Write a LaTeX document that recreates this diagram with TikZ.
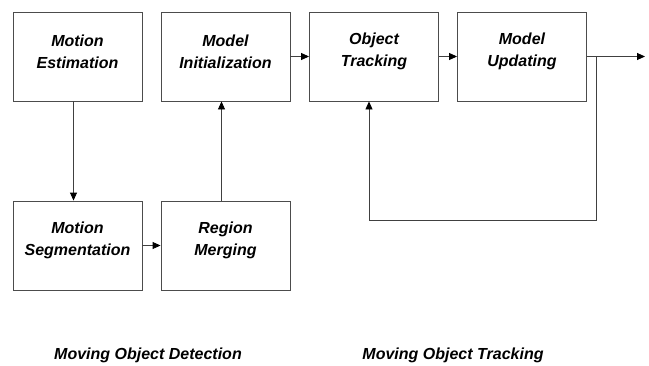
\documentclass[tikz,border=0pt]{standalone}
\usepackage{fontspec}
\setmainfont{Liberation Sans}
\usetikzlibrary{arrows.meta}
\tikzset{
  stage/.style={draw=black!70, line width=0.9pt, minimum width=129pt,
                minimum height=89pt, inner sep=0pt},
  stagetext/.style={font=\fontsize{16}{22}\selectfont\bfseries\itshape,
                    align=center, inner sep=0pt, yshift=5pt},
  caption/.style={font=\fontsize{16}{22}\selectfont\bfseries\itshape, inner sep=0pt},
  flow/.style={draw=black!75, line width=0.9pt,
               -{Triangle[length=8pt,width=7pt,color=black]}},
}

\begin{document}
\begin{tikzpicture}[x=1pt, y=-1pt]
    \useasboundingbox (0,0) rectangle (649,365);
    % detection stages
    \node[stage] (me) at (77.5, 56.5) {};
    \node[stage] (mi) at (225.5, 56.5) {};
    \node[stage] (ms) at (77.5, 245.5) {};
    \node[stage] (rm) at (225.5, 245.5) {};
    % tracking stages
    \node[stage] (ot) at (374, 56.5) {};
    \node[stage] (mu) at (522, 56.5) {};
    \node[stagetext] (me-t) at (me) {Motion\\Estimation};
    \node[stagetext] (mi-t) at (mi) {Model\\Initialization};
    \node[stagetext] (ms-t) at (ms) {Motion\\Segmentation};
    \node[stagetext] (rm-t) at (rm) {Region\\Merging};
    \node[stagetext] (ot-t) at (ot) {Object\\Tracking};
    \node[stagetext] (mu-t) at (mu) {Model\\Updating};
    \node[caption] (det) at (148, 355) {Moving Object Detection};
    \node[caption] (trk) at (453, 355) {Moving Object Tracking};
    \coordinate (split) at (596, 56.5);
    \coordinate (out) at (645, 56.5);
    \coordinate (loop) at (596, 220);
    \draw[flow] ([xshift=-4pt]me.south) -- ([xshift=-4pt]ms.north);
    \draw[flow] (ms) -- (rm);
    \draw[flow] ([xshift=-4pt]rm.north) -- ([xshift=-4pt]mi.south);
    \draw[flow] (mi) -- (ot);
    \draw[flow] (ot) -- (mu);
    \draw[flow] (mu) -- (out);
    \draw[flow] (split) -- (loop) -| ([xshift=-5pt]ot.south);
  \end{tikzpicture}
\end{document}
